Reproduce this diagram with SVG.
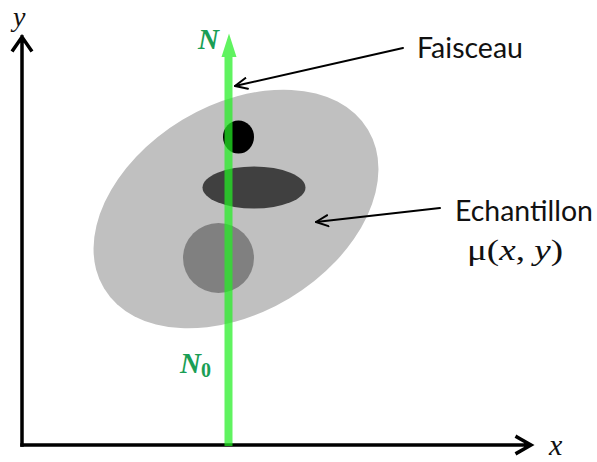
<svg xmlns="http://www.w3.org/2000/svg" width="597" height="462" viewBox="0 0 597 462">
<style>
.axis{stroke:#000;stroke-width:3.5;fill:none;stroke-linecap:square;stroke-linejoin:miter}
.ann{stroke:#000;stroke-width:2;fill:none;stroke-linecap:round;stroke-linejoin:round}
.lbl{font-family:Lato,"Liberation Sans",sans-serif;font-size:29px;fill:#111}
.math{font-family:"Liberation Serif","DejaVu Serif",serif;fill:#111}
.nlab{font-family:"Liberation Serif","DejaVu Serif",serif;font-weight:bold;font-style:italic;fill:#1a9e55}
</style>
<defs>
<marker id="open" viewBox="0 0 14 14" refX="13" refY="7" markerWidth="14" markerHeight="14" markerUnits="userSpaceOnUse" orient="auto">
<path d="M1,1.5 L13,7 L1,12.5" fill="none" stroke="#000" stroke-width="2" stroke-linecap="round" stroke-linejoin="round"/>
</marker>
</defs>
<rect width="597" height="462" fill="#fff"/>
<g id="sample">
<ellipse cx="236" cy="209" rx="154" ry="104" transform="rotate(-31 236 209)" fill="#c0c0c0"/>
</g>
<g id="black-circle"><ellipse cx="238.5" cy="137" rx="15.5" ry="16.5" fill="#000"/></g>
<g id="dark-ellipse"><ellipse cx="254" cy="187.5" rx="51.5" ry="21" fill="#404040"/></g>
<g id="gray-circle"><ellipse cx="218.5" cy="258" rx="35.5" ry="35" fill="#808080"/></g>
<g id="axes">
<path class="axis" d="M22,445 L22,37 M13,50 L22,37 L31,50"/>
<path class="axis" d="M22,445 L530,445 M517,437 L531,445 L517,453"/>
<text class="math" x="13" y="26" font-size="28" font-style="italic">y</text>
<text class="math" x="549" y="455" font-size="30" font-style="italic">x</text>
</g>
<g id="beam">
<path d="M224.5,446 L224.5,57 L221.5,57 L229,33.5 L236.5,57 L232.5,57 L232.5,446 Z" fill="#22ee22" fill-opacity="0.72"/>
<text class="nlab" x="198" y="49" font-size="29">N</text>
<text class="nlab" x="180" y="373" font-size="29">N<tspan font-style="normal" font-size="20" dy="4">0</tspan></text>
</g>
<g id="connectors">
<line class="ann" x1="403" y1="48" x2="235" y2="86" marker-end="url(#open)"/>
<line class="ann" x1="440" y1="208" x2="316" y2="222" marker-end="url(#open)"/>
</g>
<g id="label-faisceau">
<text class="lbl" x="417" y="58" textLength="106" lengthAdjust="spacingAndGlyphs">Faisceau</text>
</g>
<g id="label-echantillon">
<text class="lbl" x="455" y="221" textLength="138" lengthAdjust="spacingAndGlyphs">Echantillon</text>
<text class="math" x="467" y="260" font-size="30" textLength="96" lengthAdjust="spacingAndGlyphs">μ(<tspan font-style="italic">x</tspan>, <tspan font-style="italic">y</tspan>)</text>
</g>
</svg>
